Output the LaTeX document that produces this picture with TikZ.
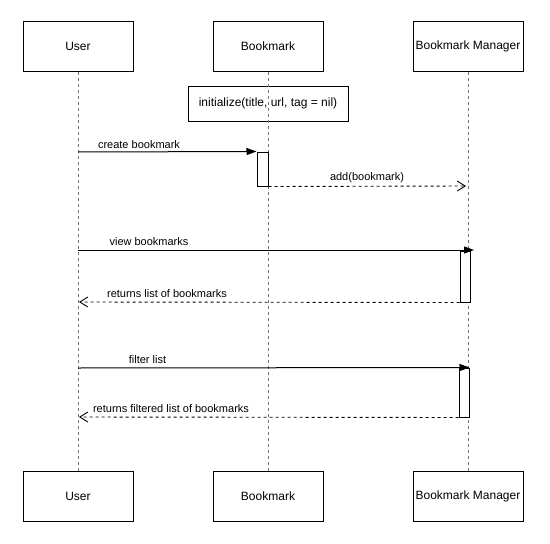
\documentclass[tikz,border=0pt]{standalone}
\usepackage{fontspec}
\setmainfont{Liberation Sans}
\usetikzlibrary{arrows.meta}
\begin{document}
\begin{tikzpicture}[x=1pt,y=-1pt,
  actor/.style={draw=black,line width=1pt,minimum width=110pt,minimum height=50pt,inner sep=0pt,font=\fontsize{12}{14}\selectfont},
  notebox/.style={draw=black,line width=1pt,minimum width=160pt,minimum height=35pt,inner sep=0pt,font=\fontsize{12}{14}\selectfont},
  lifeline/.style={draw=black!55,line width=0.9pt,dash pattern=on 3pt off 3pt},
  actbox/.style={draw=black,fill=white,line width=1pt,inner sep=0pt},
  syncmsg/.style={draw=black,line width=1pt,-{Triangle[length=10pt,width=7pt]}},
  retmsg/.style={draw=black,line width=0.9pt,dash pattern=on 3pt off 3pt,-{Straight Barb[length=8pt,width=10pt]}},
  lbl/.style={font=\fontsize{11}{13}\selectfont,inner sep=0pt}]
\useasboundingbox[fill=white] (0,0) rectangle (550,544);
% participants
\node[actor] (uT) at (78,46) {User};
\node[actor] (bT) at (268,46) {Bookmark};
\node[actor] (mT) at (468,46) {Bookmark Manager};
\node[actor] (uB) at (78,496) {User};
\node[actor] (bB) at (268,496) {Bookmark};
\node[actor] (mB) at (468,496) {Bookmark Manager};
% note
\node[notebox] (note) at (268,103.5) {initialize(title, url, tag = nil)};
% lifelines
\draw[lifeline] (uT.south) -- (uB.north);
\draw[lifeline] (bT.south) -- (bB.north);
\draw[lifeline] (mT.south) -- (mB.north);
% activation boxes
\node[actbox,minimum width=11pt,minimum height=34pt] (a1) at (262.5,169) {};
\node[actbox,minimum width=10pt,minimum height=51pt] (a2) at (465,276.5) {};
\node[actbox,minimum width=10pt,minimum height=49pt] (a3) at (464,392.5) {};
% coordinates on the lifelines
\coordinate (u1) at (78,152);
\coordinate (m1) at (466,186);
\coordinate (u2) at (78,250);
\coordinate (m2) at (474,250);
\coordinate (u3) at (79,302);
\coordinate (u4) at (78,368);
\coordinate (u5) at (79,417);
% messages
\draw[syncmsg] (u1) -- (a1.north west);
\node[lbl] (l1) at (139,145) {create bookmark};
\draw[retmsg] (a1.south east) -- (m1);
\node[lbl] (l2) at (367,178) {add(bookmark)};
\draw[syncmsg] (u2) -- (m2);
\node[lbl] (l3) at (149,242) {view bookmarks};
\draw[retmsg] (a2.south west) -- (u3);
\node[lbl] (l4) at (167,294) {returns list of bookmarks};
\draw[syncmsg] (u4) -- (a3.north east);
\node[lbl] (l5) at (147.5,360) {filter list};
\draw[retmsg] (a3.south west) -- (u5);
\node[lbl] (l6) at (171,409) {returns filtered list of bookmarks};
\end{tikzpicture}
\end{document}
